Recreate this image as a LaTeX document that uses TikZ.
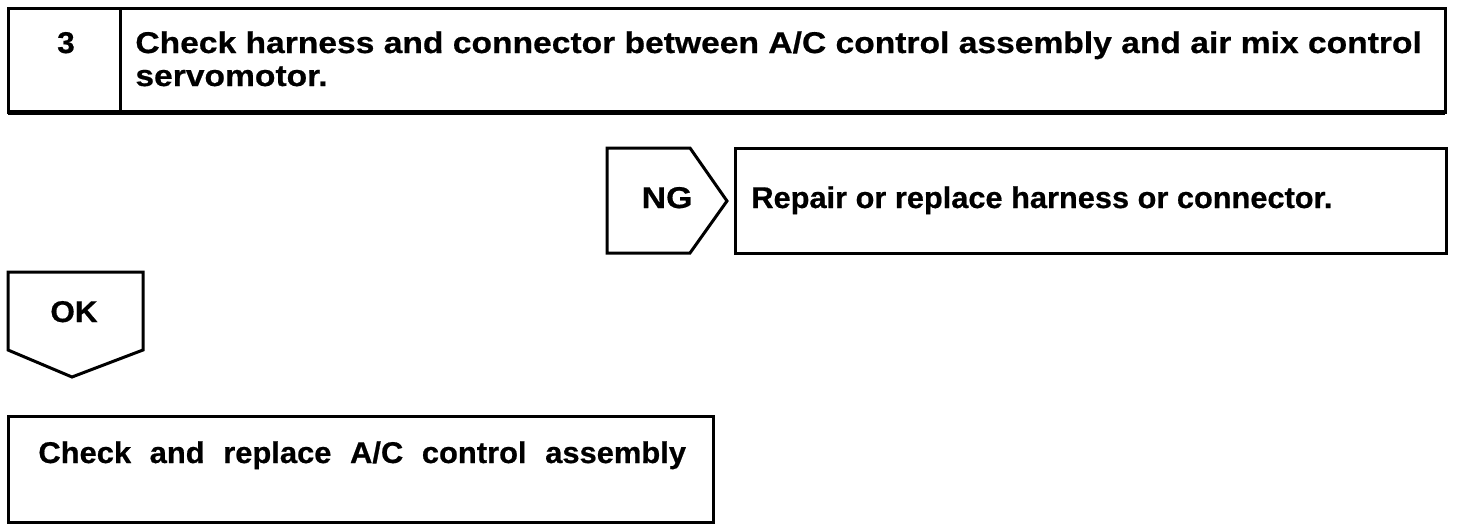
\documentclass[tikz,border=0pt]{standalone}
\usepackage{fontspec}
\setmainfont{Liberation Sans}

\tikzset{
  frame/.style={line width=1.5pt},
  txt/.style={font=\bfseries\fontsize{15}{15}\selectfont\addfontfeature{FakeStretch=#1,FakeBold=0.6}, inner sep=0pt},
  txt/.default=1
}

\begin{document}
\begin{tikzpicture}[x=0.5pt,y=-0.5pt]
      \useasboundingbox (0,0) rectangle (1472,530);

      % step header
      \draw[frame] (8,8) rectangle (1445,112);
      \draw[frame] (120,8) -- (120,112);
      \draw[line width=2.5pt] (8,112) -- (1445,112);
      \node[txt=1.05, anchor=base] (num) at (66,53) {3};
      \node[txt=1.12, anchor=base west, align=left] (step) at (135,86)
        {Check harness and connector between A/C control assembly and air mix control\\[1.5pt]servomotor.};

      % NG branch
      \draw[frame] (607,148) -- (690,148) -- (727,201) -- (690,253) -- (607,253) -- cycle;
      \node[txt=1.13, anchor=base] (ng) at (667,208) {NG};
      \draw[frame] (735,148) rectangle (1446,253);
      \node[txt=1.025, anchor=base west] (repair) at (751,208) {Repair or replace harness or connector.};

      % OK branch
      \draw[frame] (8,272) -- (143,272) -- (143,350) -- (72,377) -- (8,350) -- cycle;
      \node[txt=1.05, anchor=base] (ok) at (74,322) {OK};
      \draw[frame] (8,416) rectangle (713,522);
      \node[txt=1.03, anchor=base west] (replace) at (38,463)
        {\spaceskip=9.3pt Check and replace A/C control assembly};
\end{tikzpicture}
\end{document}
